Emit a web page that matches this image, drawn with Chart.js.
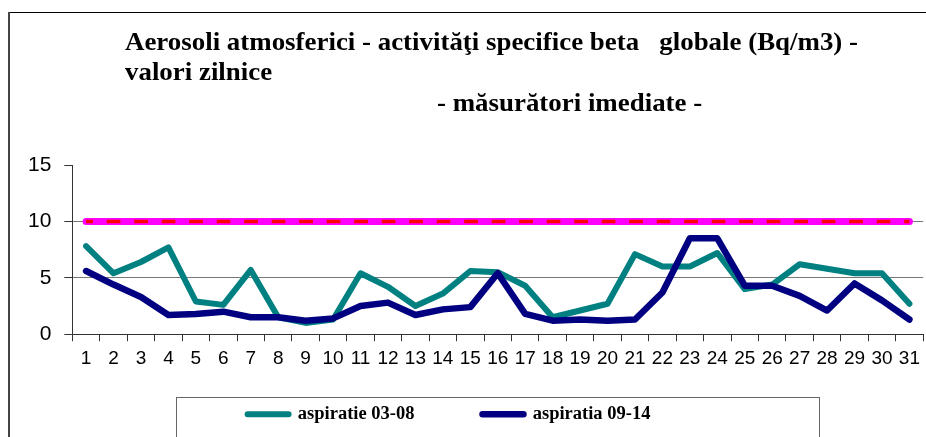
<!DOCTYPE html>
<html>
<head>
<meta charset="utf-8">
<script src="https://cdn.jsdelivr.net/npm/chart.js@4.4.0/dist/chart.umd.min.js"></script>
<style>
  html, body { margin: 0; padding: 0; background: #fff; overflow: hidden; }
  canvas { display: block; }
</style>
</head>
<body>
<canvas id="aerosoliChart" width="926" height="437"></canvas>
<script>
// zilele lunii
const zile = ["1","2","3","4","5","6","7","8","9","10","11","12","13","14","15","16",
  "17","18","19","20","21","22","23","24","25","26","27","28","29","30","31"];
// activitati beta globale (Bq/m3)
const aspiratie0308 = [7.8, 5.4, 6.4, 7.7, 2.9, 2.6, 5.7, 1.5, 1.0, 1.3, 5.4, 4.2, 2.5, 3.6, 5.6, 5.5,
  4.3, 1.5, 2.1, 2.7, 7.1, 6.0, 6.0, 7.2, 4.0, 4.4, 6.2, 5.8, 5.4, 5.4, 2.7];
const aspiratia0914 = [5.6, 4.4, 3.3, 1.7, 1.8, 2.0, 1.5, 1.5, 1.2, 1.4, 2.5, 2.8, 1.7, 2.2, 2.4, 5.4,
  1.8, 1.2, 1.3, 1.2, 1.3, 3.7, 8.5, 8.5, 4.3, 4.3, 3.4, 2.1, 4.5, 3.0, 1.3];
// nivel de atentionare
const limita = [10, 10, 10, 10, 10, 10, 10, 10, 10, 10, 10, 10, 10, 10, 10, 10,
  10, 10, 10, 10, 10, 10, 10, 10, 10, 10, 10, 10, 10, 10, 10];
const titluLinii = [
  "Aerosoli atmosferici - activităţi specifice beta   globale (Bq/m3) -",
  "valori zilnice",
  "- măsurători imediate -",
];
const serif = '"Liberation Serif", "Times New Roman", serif';
const sans = '"Liberation Sans", Arial, sans-serif';

// frame, legend box and the title
const decor = {
  id: "decor",
  afterLayout(chart) {
    // move the legend row where it sits in the original
    const lg = chart.legend;
    lg.left = 0;
    lg.right = 898;
    lg.width = 898;
    lg.top = 337;
    lg.bottom = 437;
    lg.height = 100;
  },
  beforeDraw(chart) {
    const ctx = chart.ctx;
    ctx.save();
    ctx.fillStyle = "#fff";
    ctx.fillRect(0, 0, chart.width, chart.height);
    ctx.fillStyle = "#000";
    ctx.fillRect(8, 12, 918, 1);
    ctx.fillStyle = "#444";
    ctx.fillRect(8, 12, 2, 425);
    ctx.strokeStyle = "#666";
    ctx.lineWidth = 1;
    ctx.strokeRect(176.5, 397.5, 643, 100);
    ctx.restore();
  },
  afterDraw(chart) {
    const ctx = chart.ctx;
    ctx.save();
    ctx.font = "bold 26px " + serif;
    ctx.fillStyle = "#000";
    ctx.textBaseline = "alphabetic";
    const sx = 733 / ctx.measureText(titluLinii[0]).width;
    const pos = [[125, 50], [125, 80], [437, 111]];
    titluLinii.forEach((t, i) => {
      ctx.save();
      ctx.translate(pos[i][0], pos[i][1]);
      ctx.scale(sx, 1);
      ctx.fillText(t, 0, 0);
      ctx.restore();
    });
    ctx.restore();
  },
};

const ctx = document.getElementById("aerosoliChart").getContext("2d");
const chart = new Chart(ctx, {
  type: "line",
  data: {
    labels: zile,
    datasets: [
      {
        label: "aspiratie 03-08",
        data: aspiratie0308,
        borderColor: "#008080",
        backgroundColor: "#008080",
        borderWidth: 6,
        borderCapStyle: "round",
        borderJoinStyle: "round",
        pointRadius: 0,
        tension: 0,
        order: 3,
      },
      {
        label: "aspiratia 09-14",
        data: aspiratia0914,
        borderColor: "#000080",
        backgroundColor: "#000080",
        borderWidth: 6.5,
        borderCapStyle: "round",
        borderJoinStyle: "round",
        pointRadius: 0,
        tension: 0,
        order: 2,
      },
      {
        label: "limita",
        data: limita,
        borderColor: "#FF00FF",
        borderWidth: 7,
        borderCapStyle: "round",
        pointRadius: 0,
        order: 1,
      },
      {
        label: "limita2",
        data: limita,
        borderColor: "#FF0000",
        borderWidth: 3.5,
        borderDash: [13.75, 13.75],
        borderDashOffset: 6.9,
        pointRadius: 0,
        order: 0,
      },
    ],
  },
  options: {
    responsive: false,
    animation: false,
    devicePixelRatio: 1,
    layout: { padding: { left: 15, right: 1, top: 165, bottom: 0 } },
    plugins: {
      title: { display: false },
      tooltip: { enabled: false },
      legend: {
        position: "bottom",
        maxHeight: 61,
        labels: {
          filter: (item) => item.datasetIndex < 2,
          sort: (a, b) => a.datasetIndex - b.datasetIndex,
          boxWidth: 41,
          boxHeight: 0,
          padding: 68,
          color: "#000",
          font: { family: serif, size: 18.5, weight: "bold" },
        },
      },
    },
    scales: {
      x: {
        offset: true,
        grid: {
          offset: true,
          drawOnChartArea: false,
          drawTicks: true,
          tickLength: 7,
          tickColor: "#333",
        },
        border: { color: "#333", width: 1 },
        ticks: {
          autoSkip: false,
          maxRotation: 0,
          padding: 6,
          color: "#000",
          font: { family: sans, size: 19 },
        },
      },
      y: {
        min: 0,
        max: 15,
        grid: {
          color: (c) => (c.tick && (c.tick.value === 5 || c.tick.value === 10) ? "#777" : "rgba(0,0,0,0)"),
          tickColor: "#333",
          tickLength: 8,
        },
        border: { color: "#333", width: 1 },
        ticks: {
          stepSize: 5,
          padding: 13,
          color: "#000",
          font: { family: sans, size: 21 },
        },
      },
    },
  },
  plugins: [decor],
});
</script>
</body>
</html>
